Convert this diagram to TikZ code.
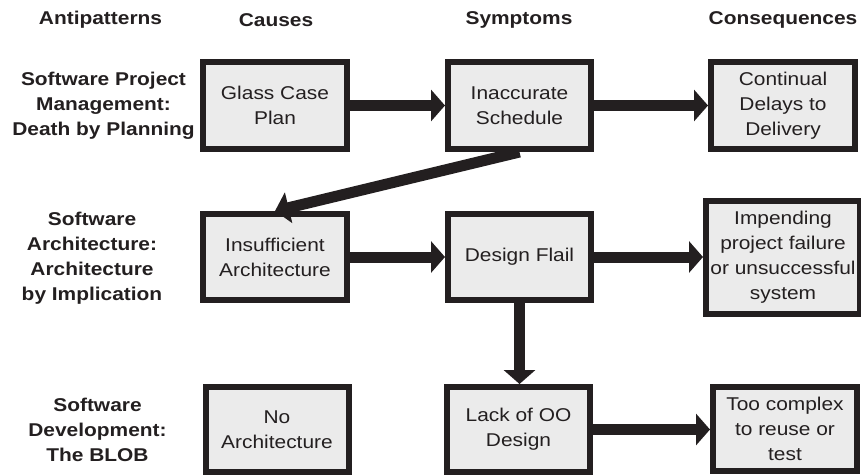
\documentclass[tikz,border=0pt]{standalone}
\usepackage{fontspec}
\setmainfont{Liberation Sans}[FakeStretch=1.13]
\usetikzlibrary{arrows.meta}
\definecolor{ink}{HTML}{231F20}
\definecolor{boxfill}{HTML}{EBEBEB}
\tikzset{
  txt/.style={font=\fontsize{18.5}{25}\selectfont, text=ink, inner sep=0pt, align=center},
  hdr/.style={txt, font=\fontsize{18.5}{25}\selectfont\bfseries},
  box/.style={txt, draw=ink, line width=6pt, fill=boxfill},
  conn/.style={draw=ink, line width=11pt, -{Triangle[length=14pt,width=31pt]}}
}
\begin{document}
\begin{tikzpicture}[x=1pt,y=-1pt]
\useasboundingbox (0,0) rectangle (861,475);
\clip (0,0) rectangle (861,475);
% headers
\node[hdr] (hA) at (100.5,20) {Antipatterns};
\node[hdr] (hC) at (276,20) {Causes};
\node[hdr] (hS) at (519,20) {Symptoms};
\node[hdr] (hQ) at (783,20) {Consequences};
% row labels
\node[hdr] (l1) at (103.5,106) {Software Project\\Management:\\Death by Planning};
\node[hdr] (l2) at (92,258) {Software\\Architecture:\\Architecture\\by Implication};
\node[hdr] (l3) at (97.5,430) {Software\\Development:\\The BLOB};
% boxes
\node[box, minimum width=144, minimum height=87] (b1) at (275,105.5) {Glass Case\\Plan};
\node[box, minimum width=143, minimum height=87] (b2) at (519.5,105.5) {Inaccurate\\Schedule};
\node[box, minimum width=144, minimum height=87] (b3) at (783,105.5) {Continual\\Delays to\\Delivery};
\node[box, minimum width=144, minimum height=86] (b4) at (275,257) {Insufficient\\Architecture};
\node[box, minimum width=143, minimum height=86] (b5) at (519.5,257) {Design Flail};
\node[box, minimum width=154, minimum height=113] (b6) at (783,257) {Impending\\project failure\\or unsuccessful\\system};
\node[box, minimum width=143, minimum height=85] (b7) at (277,429.5) {No\\Architecture};
\node[box, minimum width=143, minimum height=85] (b8) at (518.5,429.5) {Lack of OO\\Design};
\node[box, minimum width=144, minimum height=84] (b9) at (785,429) {Too complex\\to reuse or\\test};
% connectors
\draw[conn] (b1) -- (b2);
\draw[conn] (b2) -- (b3);
\draw[conn] (b2.south) -- (b4.north);
\draw[conn] (b4) -- (b5);
\draw[conn] (b5.east) -- (b5.east -| b6.west);
\draw[conn] (b5.south) -- (b5.south |- b8.north);
\draw[conn] (b8.east) -- (b8.east -| b9.west);
\end{tikzpicture}
\end{document}
